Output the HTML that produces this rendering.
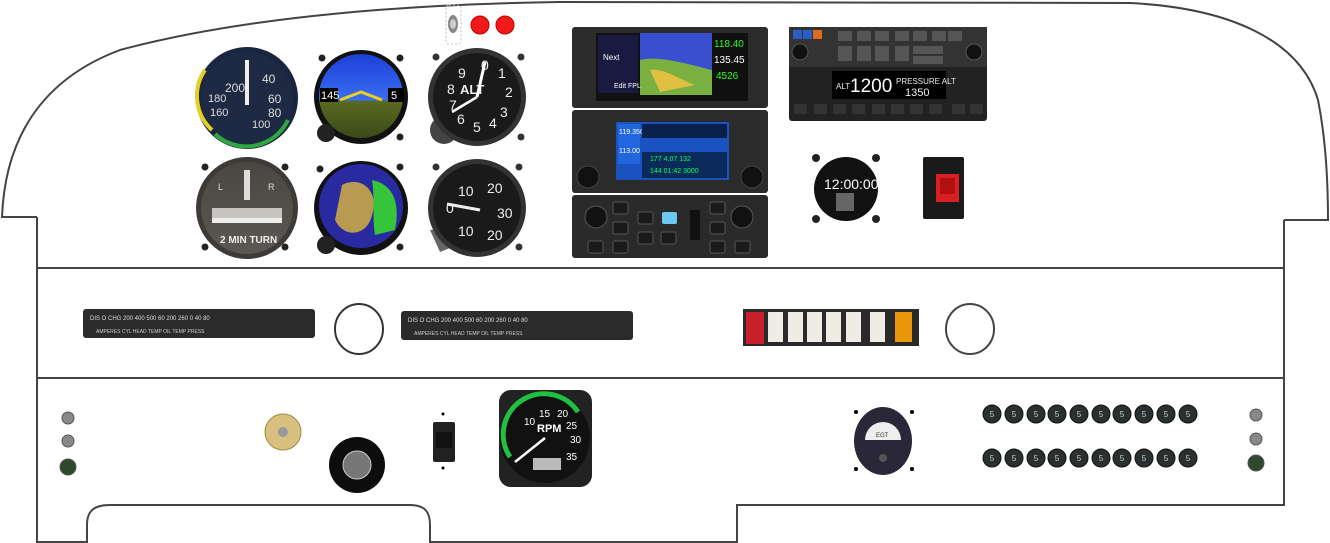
<!DOCTYPE html>
<html><head><meta charset="utf-8"><style>
html,body{margin:0;padding:0;background:#fff;}
svg{display:block;font-family:"Liberation Sans",sans-serif;}
</style></head><body>
<svg width="1330" height="543" viewBox="0 0 1330 543" xmlns="http://www.w3.org/2000/svg">
<defs>
<linearGradient id="adi" x1="0" y1="0" x2="0" y2="1"><stop offset="0" stop-color="#1c3fd8"/><stop offset="0.55" stop-color="#3a6ef0"/><stop offset="0.56" stop-color="#5a6a20"/><stop offset="1" stop-color="#3b4a18"/></linearGradient>
<linearGradient id="tc" x1="0" y1="0" x2="0" y2="1"><stop offset="0" stop-color="#4a4642"/><stop offset="1" stop-color="#5b5753"/></linearGradient>
</defs>
<g fill="none" stroke="#444" stroke-width="2">
<path d="M37,217 L2,217 C5,140 40,80 120,50 C250,15 420,4 560,2 L1130,3 C1230,8 1300,40 1318,100 C1326,140 1328,180 1328,220 L1284,220"/>
<path d="M37,217 L37,543"/>
<path d="M1284,220 L1284,505 L737,505 L737,543"/>
<path d="M37,268 L1284,268"/>
<path d="M37,378 L1284,378"/>
<path d="M37,542 L87,542 L87,525 C87,510 95,505 110,505 L410,505 C425,505 430,512 430,525 L430,542 L737,542"/>
</g>
<rect x="446" y="5" width="15" height="39" rx="3" fill="none" stroke="#bbb" stroke-dasharray="2,2"/>
<ellipse cx="453" cy="24" rx="5" ry="9" fill="#888"/><ellipse cx="453" cy="24" rx="3" ry="5" fill="#ccc"/>
<circle cx="480" cy="25" r="9" fill="#f01a1a" stroke="#b00" /><circle cx="505" cy="25" r="9" fill="#f01a1a" stroke="#b00"/>

<circle cx="247" cy="98" r="51" fill="#1a2540"/><circle cx="247" cy="98" r="46" fill="#1e2a44"/>
<path d="M205,70 A46,46 0 0 0 212,130" stroke="#e8d020" stroke-width="4" fill="none"/>
<path d="M215,134 A46,46 0 0 0 288,120" stroke="#2fa840" stroke-width="4" fill="none"/>
<rect x="245" y="60" width="4" height="45" fill="#eee"/>
<text x="225" y="92" font-size="12" fill="#ddd">200</text><text x="262" y="83" font-size="12" fill="#ddd">40</text><text x="268" y="103" font-size="12" fill="#ddd">60</text><text x="268" y="117" font-size="12" fill="#ddd">80</text><text x="208" y="102" font-size="11" fill="#ddd">180</text><text x="210" y="116" font-size="11" fill="#ddd">160</text><text x="252" y="128" font-size="11" fill="#ddd">100</text>

<circle cx="322" cy="58" r="3.5" fill="#222"/><circle cx="400" cy="58" r="3.5" fill="#222"/><circle cx="400" cy="137" r="3.5" fill="#222"/>
<circle cx="361" cy="97" r="47" fill="#111"/><circle cx="361" cy="96" r="42" fill="url(#adi)"/>
<circle cx="326" cy="133" r="9" fill="#222"/>
<path d="M340,100 L361,92 L382,100" stroke="#e8d020" stroke-width="3" fill="none"/>
<rect x="320" y="88" width="18" height="14" fill="#000"/><text x="321" y="99" font-size="11" fill="#fff">145</text>
<rect x="388" y="88" width="16" height="14" fill="#000"/><text x="391" y="99" font-size="11" fill="#fff">5</text>

<circle cx="436" cy="57" r="3.5" fill="#333"/><circle cx="521" cy="57" r="3.5" fill="#333"/><circle cx="521" cy="137" r="3.5" fill="#333"/>
<circle cx="444" cy="130" r="14" fill="#444"/>
<circle cx="477" cy="97" r="49" fill="#333"/><circle cx="477" cy="97" r="44" fill="#1a1a1a"/>
<text x="460" y="94" font-size="13" fill="#eee" font-weight="bold">ALT</text>
<text x="481" y="70" font-size="14" fill="#eee">0</text><text x="498" y="78" font-size="14" fill="#eee">1</text><text x="505" y="97" font-size="14" fill="#eee">2</text><text x="500" y="117" font-size="14" fill="#eee">3</text><text x="489" y="128" font-size="14" fill="#eee">4</text><text x="473" y="132" font-size="14" fill="#eee">5</text><text x="457" y="124" font-size="14" fill="#eee">6</text><text x="449" y="110" font-size="14" fill="#eee">7</text><text x="447" y="94" font-size="14" fill="#eee">8</text><text x="458" y="78" font-size="14" fill="#eee">9</text>
<line x1="477" y1="97" x2="485" y2="62" stroke="#fff" stroke-width="3"/><line x1="477" y1="97" x2="452" y2="112" stroke="#fff" stroke-width="2.5"/>

<circle cx="205" cy="167" r="3.5" fill="#222"/><circle cx="285" cy="167" r="3.5" fill="#222"/><circle cx="205" cy="247" r="3.5" fill="#222"/><circle cx="285" cy="247" r="3.5" fill="#222"/>
<circle cx="247" cy="208" r="51" fill="#3e3a37"/><circle cx="247" cy="208" r="46" fill="url(#tc)"/>
<rect x="244" y="170" width="6" height="30" fill="#ddd"/>
<rect x="212" y="208" width="70" height="14" fill="#c8c4be"/><rect x="212" y="218" width="70" height="5" fill="#eee"/>
<text x="218" y="190" font-size="9" fill="#ddd">L</text><text x="268" y="190" font-size="9" fill="#ddd">R</text>
<text x="220" y="243" font-size="10" fill="#eee" font-weight="bold">2 MIN TURN</text>

<circle cx="320" cy="169" r="3.5" fill="#222"/><circle cx="400" cy="167" r="3.5" fill="#222"/><circle cx="400" cy="247" r="3.5" fill="#222"/>
<circle cx="361" cy="208" r="47" fill="#111"/><circle cx="361" cy="206" r="42" fill="#2a2aa0"/>
<path d="M342,185 C360,175 380,190 372,215 C368,235 345,240 335,220 Z" fill="#b89a50"/>
<path d="M372,180 C395,185 400,205 395,230 L375,235 C372,215 375,200 372,180 Z" fill="#35c43a"/>
<circle cx="326" cy="245" r="9" fill="#222"/>

<circle cx="436" cy="167" r="3.5" fill="#333"/><circle cx="519" cy="167" r="3.5" fill="#333"/><circle cx="519" cy="247" r="3.5" fill="#333"/>
<path d="M430,230 L440,252 L450,248 L445,228 Z" fill="#666"/>
<circle cx="477" cy="208" r="49" fill="#333"/><circle cx="477" cy="208" r="44" fill="#1a1a1a"/>
<text x="458" y="196" font-size="14" fill="#eee">10</text><text x="487" y="193" font-size="14" fill="#eee">20</text><text x="497" y="218" font-size="14" fill="#eee">30</text><text x="446" y="213" font-size="14" fill="#eee">0</text><text x="458" y="236" font-size="14" fill="#eee">10</text><text x="487" y="240" font-size="14" fill="#eee">20</text>
<line x1="447" y1="204" x2="480" y2="210" stroke="#eee" stroke-width="3"/>

<rect x="572" y="27" width="196" height="81" rx="3" fill="#2b2b2b"/>
<rect x="596" y="33" width="152" height="68" fill="#111"/>
<rect x="640" y="33" width="72" height="62" fill="#3a4fd0"/><path d="M640,60 C660,55 690,65 712,70 L712,95 L640,95 Z" fill="#7ab040"/><path d="M650,70 C665,68 680,80 695,85 L660,92 Z" fill="#e0c040"/>
<rect x="598" y="35" width="40" height="58" fill="#1a1a40"/>
<text x="603" y="60" font-size="8" fill="#fff">Next</text><text x="614" y="88" font-size="7" fill="#fff">Edit FPL</text>
<rect x="713" y="35" width="34" height="60" fill="#101010"/>
<text x="714" y="47" font-size="10" fill="#2f2">118.40</text><text x="714" y="63" font-size="10" fill="#fff">135.45</text><text x="716" y="79" font-size="10" fill="#2f2">4526</text>

<rect x="572" y="110" width="196" height="83" rx="3" fill="#2b2b2b"/>
<rect x="616" y="122" width="113" height="58" fill="#1a52c0"/>
<rect x="618" y="124" width="22" height="40" fill="#2266dd"/>
<text x="619" y="134" font-size="7" fill="#fff">119.350</text><text x="619" y="153" font-size="7" fill="#fff">113.00</text>
<rect x="642" y="124" width="85" height="14" fill="#08204a"/><rect x="642" y="152" width="85" height="26" fill="#0a2a5a"/>
<text x="650" y="161" font-size="7" fill="#0f6">177  4.07  132</text><text x="650" y="173" font-size="7" fill="#0f6">144  01:42 3000</text>
<circle cx="588" cy="177" r="11" fill="#111" stroke="#444"/><circle cx="752" cy="177" r="11" fill="#111" stroke="#444"/>

<rect x="572" y="195" width="196" height="63" rx="3" fill="#2a2a2a"/>
<circle cx="596" cy="217" r="11" fill="#111" stroke="#555"/><circle cx="742" cy="217" r="11" fill="#111" stroke="#555"/>
<g fill="#1a1a1a" stroke="#555"><rect x="613" y="202" width="15" height="12" rx="2"/><rect x="613" y="222" width="15" height="12" rx="2"/><rect x="613" y="241" width="15" height="12" rx="2"/><rect x="588" y="241" width="15" height="12" rx="2"/><rect x="638" y="212" width="15" height="12" rx="2"/><rect x="638" y="232" width="15" height="12" rx="2"/><rect x="661" y="232" width="15" height="12" rx="2"/><rect x="710" y="202" width="15" height="12" rx="2"/><rect x="710" y="222" width="15" height="12" rx="2"/><rect x="710" y="241" width="15" height="12" rx="2"/><rect x="735" y="241" width="15" height="12" rx="2"/></g>
<rect x="662" y="212" width="15" height="12" rx="2" fill="#6cc8f0"/>
<rect x="690" y="210" width="10" height="30" fill="#111"/>

<rect x="789" y="27" width="198" height="94" rx="3" fill="#222"/>
<rect x="789" y="27" width="198" height="40" fill="#333"/>
<rect x="793" y="30" width="9" height="9" fill="#2c5ec8"/><rect x="803" y="30" width="9" height="9" fill="#2c5ec8"/><rect x="813" y="30" width="9" height="9" fill="#e06a20"/>
<g fill="#555"><rect x="838" y="31" width="14" height="10"/><rect x="857" y="31" width="14" height="10"/><rect x="875" y="31" width="14" height="10"/><rect x="895" y="31" width="14" height="10"/><rect x="913" y="31" width="14" height="10"/><rect x="932" y="31" width="14" height="10"/><rect x="948" y="31" width="14" height="10"/><rect x="838" y="46" width="14" height="15"/><rect x="857" y="46" width="14" height="15"/><rect x="875" y="46" width="14" height="15"/><rect x="895" y="46" width="14" height="15"/><rect x="913" y="46" width="30" height="8"/><rect x="913" y="56" width="30" height="8"/></g>
<circle cx="800" cy="52" r="8" fill="#111" stroke="#555"/><circle cx="974" cy="52" r="8" fill="#111" stroke="#555"/>
<rect x="832" y="71" width="114" height="28" fill="#000"/>
<text x="836" y="89" font-size="8" fill="#eee">ALT</text><text x="850" y="92" font-size="19" fill="#fff">1200</text>
<text x="896" y="84" font-size="8" fill="#eee">PRESSURE ALT</text><text x="905" y="96" font-size="11" fill="#eee">1350</text>
<g fill="#333"><rect x="794" y="104" width="13" height="10"/><rect x="814" y="104" width="13" height="10"/><rect x="833" y="104" width="13" height="10"/><rect x="852" y="104" width="13" height="10"/><rect x="872" y="104" width="13" height="10"/><rect x="891" y="104" width="13" height="10"/><rect x="910" y="104" width="13" height="10"/><rect x="929" y="104" width="13" height="10"/><rect x="952" y="104" width="13" height="10"/><rect x="970" y="104" width="13" height="10"/></g>

<g fill="#222"><circle cx="816" cy="158" r="4"/><circle cx="876" cy="158" r="4"/><circle cx="816" cy="219" r="4"/><circle cx="876" cy="219" r="4"/></g>
<circle cx="846" cy="189" r="32" fill="#111"/>
<text x="824" y="189" font-size="14" fill="#fff">12:00:00</text>
<rect x="836" y="193" width="18" height="18" fill="#666"/>

<rect x="923" y="157" width="41" height="62" rx="2" fill="#1a1a1a"/><rect x="936" y="174" width="23" height="28" fill="#d82020"/><rect x="940" y="178" width="15" height="16" fill="#b01010"/>

<rect x="83" y="309" width="232" height="29" rx="3" fill="#2b2b2b"/>
<rect x="401" y="311" width="232" height="29" rx="3" fill="#2b2b2b"/>
<text x="90" y="320" font-size="6" fill="#ddd">DIS   O   CHG      200   400   500        60   200  260         0    40   80</text>
<text x="408" y="322" font-size="6" fill="#ddd">DIS   O   CHG      200   400   500        60   200  260         0    40   80</text>
<text x="96" y="333" font-size="5" fill="#ccc">AMPERES        CYL HEAD TEMP      OIL TEMP          PRESS</text>
<text x="414" y="335" font-size="5" fill="#ccc">AMPERES        CYL HEAD TEMP      OIL TEMP          PRESS</text>
<ellipse cx="359" cy="329" rx="24" ry="25" fill="none" stroke="#333" stroke-width="2"/>
<ellipse cx="970" cy="329" rx="24" ry="25" fill="none" stroke="#444" stroke-width="2"/>

<rect x="743" y="309" width="176" height="37" fill="#2a2a2a"/>
<rect x="746" y="312" width="18" height="32" fill="#c8202a"/>
<g fill="#eeece4"><rect x="768" y="312" width="15" height="30"/><rect x="788" y="312" width="15" height="30"/><rect x="807" y="312" width="15" height="30"/><rect x="826" y="312" width="15" height="30"/><rect x="846" y="312" width="15" height="30"/><rect x="870" y="312" width="15" height="30"/></g>
<rect x="895" y="312" width="17" height="30" fill="#e8960a"/>

<g fill="#888" stroke="#555"><circle cx="68" cy="418" r="6"/><circle cx="68" cy="441" r="6"/><circle cx="1256" cy="415" r="6"/><circle cx="1256" cy="439" r="6"/></g>
<circle cx="68" cy="467" r="8" fill="#2e4a2e" stroke="#555"/><circle cx="1256" cy="463" r="8" fill="#2e4a2e" stroke="#555"/>
<circle cx="283" cy="432" r="18" fill="#d8c080" stroke="#a08a40"/><circle cx="283" cy="432" r="5" fill="#999"/>
<circle cx="357" cy="465" r="28" fill="#0d0d0d"/><circle cx="357" cy="465" r="14" fill="#777" stroke="#ccc"/>
<circle cx="443" cy="414" r="1.5" fill="#000"/><circle cx="443" cy="468" r="1.5" fill="#000"/>
<rect x="433" y="422" width="22" height="40" rx="2" fill="#222"/><rect x="436" y="432" width="16" height="16" fill="#111"/>
<rect x="499" y="390" width="93" height="97" rx="12" fill="#222"/>
<circle cx="545" cy="438" r="45" fill="#111"/>
<path d="M510,457 A40,40 0 0 1 578,412" stroke="#22c040" stroke-width="5" fill="none"/>
<text x="537" y="432" font-size="11" fill="#fff" font-weight="bold">RPM</text>
<text x="539" y="417" font-size="10" fill="#fff">15</text><text x="557" y="417" font-size="10" fill="#fff">20</text><text x="566" y="429" font-size="10" fill="#fff">25</text><text x="570" y="443" font-size="10" fill="#fff">30</text><text x="566" y="460" font-size="10" fill="#fff">35</text><text x="524" y="425" font-size="10" fill="#fff">10</text>
<line x1="545" y1="438" x2="515" y2="462" stroke="#fff" stroke-width="2.5"/>
<rect x="533" y="458" width="28" height="12" fill="#bbb"/>

<g fill="#000"><circle cx="856" cy="412" r="2"/><circle cx="912" cy="412" r="2"/><circle cx="856" cy="469" r="2"/><circle cx="912" cy="469" r="2"/></g>
<ellipse cx="883" cy="441" rx="29" ry="34" fill="#2a2838"/>
<path d="M865,440 A18,18 0 0 1 901,440 Z" fill="#eee"/>
<text x="876" y="437" font-size="6" fill="#333">EGT</text>
<circle cx="883" cy="458" r="4" fill="#555"/>

<g fill="#2a2f2f" stroke="#111">
<circle cx="992" cy="414" r="9"/><circle cx="1014" cy="414" r="9"/><circle cx="1036" cy="414" r="9"/><circle cx="1057" cy="414" r="9"/><circle cx="1079" cy="414" r="9"/><circle cx="1101" cy="414" r="9"/><circle cx="1122" cy="414" r="9"/><circle cx="1144" cy="414" r="9"/><circle cx="1166" cy="414" r="9"/><circle cx="1188" cy="414" r="9"/>
<circle cx="992" cy="458" r="9"/><circle cx="1014" cy="458" r="9"/><circle cx="1036" cy="458" r="9"/><circle cx="1057" cy="458" r="9"/><circle cx="1079" cy="458" r="9"/><circle cx="1101" cy="458" r="9"/><circle cx="1122" cy="458" r="9"/><circle cx="1144" cy="458" r="9"/><circle cx="1166" cy="458" r="9"/><circle cx="1188" cy="458" r="9"/>
</g>
<g font-size="8" fill="#ccc" text-anchor="middle">
<text x="992" y="417">5</text><text x="1014" y="417">5</text><text x="1036" y="417">5</text><text x="1057" y="417">5</text><text x="1079" y="417">5</text><text x="1101" y="417">5</text><text x="1122" y="417">5</text><text x="1144" y="417">5</text><text x="1166" y="417">5</text><text x="1188" y="417">5</text>
<text x="992" y="461">5</text><text x="1014" y="461">5</text><text x="1036" y="461">5</text><text x="1057" y="461">5</text><text x="1079" y="461">5</text><text x="1101" y="461">5</text><text x="1122" y="461">5</text><text x="1144" y="461">5</text><text x="1166" y="461">5</text><text x="1188" y="461">5</text>
</g>
</svg>
</body></html>
